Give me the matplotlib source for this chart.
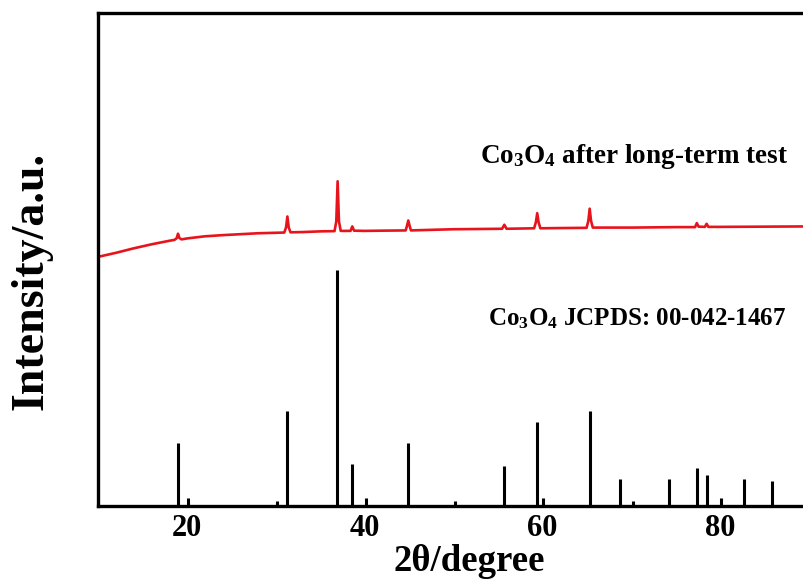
import matplotlib
matplotlib.use("Agg")
import matplotlib.pyplot as plt

# Reference stick pattern (Co3O4 JCPDS 00-042-1467), relative intensity
ref_2theta = [19.0, 20.1, 30.1, 31.3, 36.9, 38.6, 40.1, 44.85, 50.1, 55.7, 59.4,
              60.1, 65.3, 68.7, 70.2, 74.2, 77.4, 78.5, 80.1, 82.7, 85.8]
ref_int = [26.7, 3.4, 2.1, 40.3, 100.0, 17.8, 3.4, 26.7, 2.1, 17.0, 35.6,
           3.4, 40.3, 11.4, 2.1, 11.4, 16.1, 13.1, 3.4, 11.4, 10.6]

# Measured pattern after long-term test (same arbitrary units, offset)
meas_2theta = [10.0, 12.0, 14.0, 16.0, 18.0, 18.6, 18.85, 19.0, 19.15, 19.4, 20.0,
               22.0, 24.0, 26.0, 28.0, 30.0, 30.95, 31.15, 31.3, 31.45, 31.65,
               33.0, 35.0, 36.6, 36.8, 36.95, 37.1, 37.3, 38.4, 38.6, 38.8,
               40.0, 42.0, 44.6, 44.75, 44.9, 45.05, 45.2, 48.0, 50.0, 55.45,
               55.7, 55.95, 59.05, 59.25, 59.4, 59.55, 59.75, 62.0, 64.95, 65.15,
               65.3, 65.45, 65.65, 70.0, 75.0, 77.15, 77.35, 77.55, 78.25, 78.45,
               78.65, 80.0, 85.0, 90.0]
meas_int = [105.5, 107.2, 109.1, 110.8, 112.3, 112.7, 113.4, 115.3, 113.5, 112.9, 113.3,
            114.2, 114.7, 115.1, 115.5, 115.7, 115.8, 118.0, 122.6, 118.0, 115.9,
            116.0, 116.3, 116.4, 120.5, 137.5, 120.5, 116.5, 116.5, 118.4, 116.6,
            116.5, 116.6, 116.7, 118.6, 120.9, 118.6, 116.7, 117.0, 117.2, 117.4,
            119.1, 117.4, 117.6, 120.2, 124.0, 120.2, 117.6, 117.7, 117.8, 120.8,
            125.9, 120.8, 117.9, 117.9, 118.1, 118.1, 119.8, 118.3, 118.2, 119.5,
            118.2, 118.2, 118.3, 118.4]

xticks = [20, 40, 60, 80]

plt.rcParams['font.family'] = ['Liberation Serif', 'DejaVu Serif']
plt.rcParams['font.weight'] = 'bold'
plt.rcParams['mathtext.fontset'] = 'custom'
plt.rcParams['mathtext.rm'] = 'Liberation Serif:bold'
plt.rcParams['mathtext.it'] = 'Liberation Serif:bold'
plt.rcParams['mathtext.bf'] = 'Liberation Serif:bold'

W, H = 804, 581
fig = plt.figure(figsize=(W / 100, H / 100), dpi=100)
ax = fig.add_axes([98 / W, (H - 506) / H, (809.3 - 98) / W, (506 - 12.7) / H])

ax.plot(meas_2theta, meas_int, color='#e8141c', lw=1.9, solid_joinstyle='round')
ax.vlines(ref_2theta, 0, ref_int, color='black', lw=2.2)

ax.set_xlim(10, 90)
ax.set_ylim(0, 208.9)
ax.set_xticks(xticks)
ax.set_yticks([])
ax.tick_params(axis='x', length=0, pad=6, labelsize=22)
for lab in ax.get_xticklabels():
    lab.set_fontweight('bold')
for s in ax.spines.values():
    s.set_linewidth(2.4)

fig.text(469 / W, 10 / H, '2θ/degree', ha='center', va='baseline',
         fontsize=26.5, fontweight='bold')
fig.text(32 / W, 1 - 281 / H, 'Intensity/a.u.', ha='center', va='center',
         rotation=90, fontsize=33, fontweight='bold')

fig.text(480 / W, (H - 163) / H, r'Co$_{3}$O$_{4}$ after long-term test',
         ha='left', va='baseline', fontsize=19.5, fontweight='bold')
fig.text(488 / W, (H - 325) / H, r'Co$_{3}$O$_{4}$ JCPDS: 00-042-1467',
         ha='left', va='baseline', fontsize=18, fontweight='bold')

fig.savefig('out.png', dpi=100)
